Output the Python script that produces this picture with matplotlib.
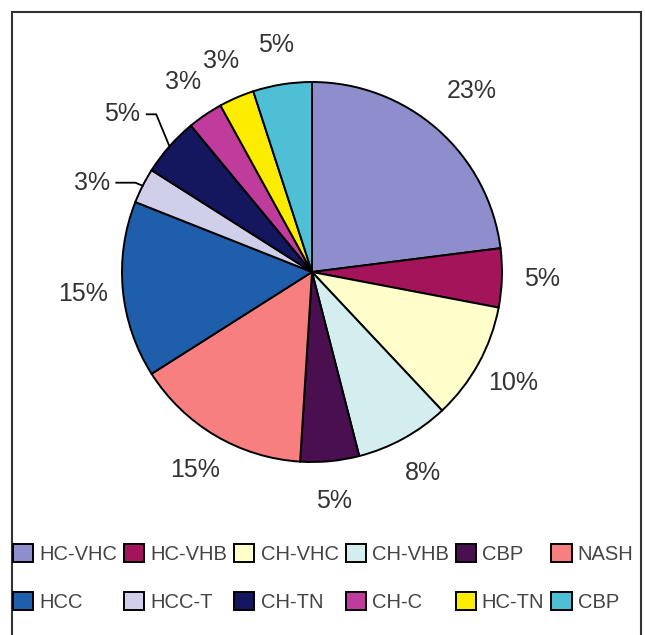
import numpy as np
import matplotlib
matplotlib.use("Agg")
import matplotlib.pyplot as plt
from matplotlib.patches import Rectangle

# slices, clockwise from 12 o'clock
categories = ["HC-VHC", "HC-VHB", "CH-VHC", "CH-VHB", "CBP", "NASH",
              "HCC", "HCC-T", "CH-TN", "CH-C", "HC-TN", "CBP"]
shares = [23, 5, 10, 8, 5, 15, 15, 3, 5, 3, 3, 5]
colors = ["#8e8ecc", "#a3145a", "#ffffcc", "#d4eef0", "#4a0f4e", "#f77f80",
          "#1f5eaa", "#cfcfea", "#14165e", "#c03c9c", "#fbec00", "#4fbfd6"]

plt.rcParams['font.family'] = ['Liberation Sans', 'DejaVu Sans']
text_color = "#333333"

fig = plt.figure(figsize=(6.45, 6.35), dpi=100)
# axes sized so that radius 1 = 190 px, centre at (312, 272) px from top-left
ax = fig.add_axes([8 / 645, 59 / 635, 608 / 645, 608 / 635])

wedges, _ = ax.pie(shares, colors=colors, startangle=90, counterclock=False,
                   radius=1.0, wedgeprops=dict(edgecolor="black", linewidth=1.4))
# pie() resets the limits, so set them afterwards
ax.set_xlim(-1.6, 1.6)
ax.set_ylim(-1.6, 1.6)
ax.set_aspect("equal")
ax.axis("off")

# percentage labels
for i, w in enumerate(wedges):
    ang = np.deg2rad((w.theta1 + w.theta2) / 2)
    label = f"{shares[i]}%"
    if categories[i] in ("HCC-T", "CH-TN"):
        continue
    dist = 1.27 if shares[i] == 23 else 1.21
    ax.text(dist * np.cos(ang), dist * np.sin(ang), label, ha="center", va="center",
            fontsize=18, color=text_color)

# two small slices on the left get leader lines
leader = {"HCC-T": (-1.16, 0.47, -0.93), "CH-TN": (-1.0, 0.83, -0.82)}
for i, w in enumerate(wedges):
    if categories[i] not in leader:
        continue
    tx, ty, kx = leader[categories[i]]
    ang = np.deg2rad((w.theta1 + w.theta2) / 2)
    ex, ey = np.cos(ang), np.sin(ang)
    ax.plot([tx + 0.13, kx, ex], [ty, ty, ey], color="black", lw=1.3)
    ax.text(tx, ty, f"{shares[i]}%", ha="center", va="center", fontsize=18, color=text_color)

# legend: two rows of six
order = [j for k in range(6) for j in (k, k + 6)]
leg = fig.legend([wedges[j] for j in order], [categories[j] for j in order],
                 ncol=6, loc="upper left", bbox_to_anchor=(13 / 645, 1 - 544 / 635),
                 frameon=False, fontsize=14.5, handlelength=1.0, handleheight=1.0,
                 handletextpad=0.3, columnspacing=0.35, labelspacing=1.4,
                 borderpad=0.0, borderaxespad=0.0)
for t in leg.get_texts():
    t.set_color("#444444")

# outer frame (bottom edge runs off the image)
fig.patches.append(Rectangle((12 / 645, -0.05), 629 / 645, 1.05 - 12 / 635,
                             transform=fig.transFigure, fill=False,
                             edgecolor="#333333", linewidth=1.5))

fig.savefig("out.png", dpi=100)
